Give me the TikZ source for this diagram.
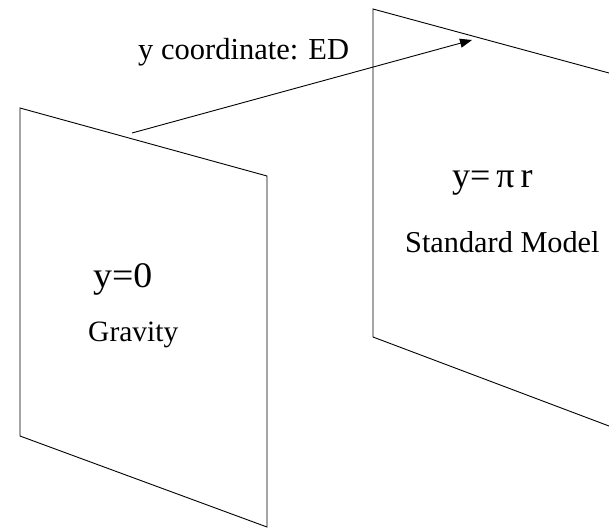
\documentclass[tikz,border=0pt]{standalone}
\usepackage{fontspec}
\setmainfont{Liberation Serif}
\usetikzlibrary{arrows.meta}
\tikzset{
  panel/.style={draw=black, line width=0.9pt, line join=miter},
  lbl/.style={inner sep=0pt, anchor=base west, text=black},
  conn/.style={draw=black, line width=0.9pt, -{Triangle[length=12pt,width=9pt]}}
}
\begin{document}
\begin{tikzpicture}[x=1pt,y=-1pt]
\useasboundingbox (0,0) rectangle (609,528);
% left brane
\coordinate (l1) at (20,108);
\coordinate (l2) at (267,176);
\coordinate (l3) at (267,527);
\coordinate (l4) at (20,436);
\draw[panel] (l1) -- (l2) -- (l3) -- (l4) -- cycle;
% right brane (cut by the picture edge)
\coordinate (r0) at (609,73);
\coordinate (r1) at (373,9);
\coordinate (r2) at (373,337);
\coordinate (r3) at (609,426);
\draw[panel] (r0) -- (r1) -- (r2) -- (r3);
% labels
\node[lbl, font=\fontsize{30.5}{34}\selectfont] (ed) at (138,59) {y coordinate: ED};
\node[lbl, font=\fontsize{36}{40}\selectfont, xscale=1.05] (y0) at (93,287) {y=0};
\node[lbl, font=\fontsize{29.5}{34}\selectfont] (grav) at (88,341) {Gravity};
\node[lbl, font=\fontsize{36}{40}\selectfont] (ypr) at (452,187) {y=\,π\,r};
\node[lbl, font=\fontsize{30.3}{34}\selectfont] (sm) at (405,252) {Standard Model};
% arrow
\coordinate (a0) at (132,133);
\coordinate (a1) at (472,40);
\draw[conn] (a0) -- (a1);
\end{tikzpicture}
\end{document}
